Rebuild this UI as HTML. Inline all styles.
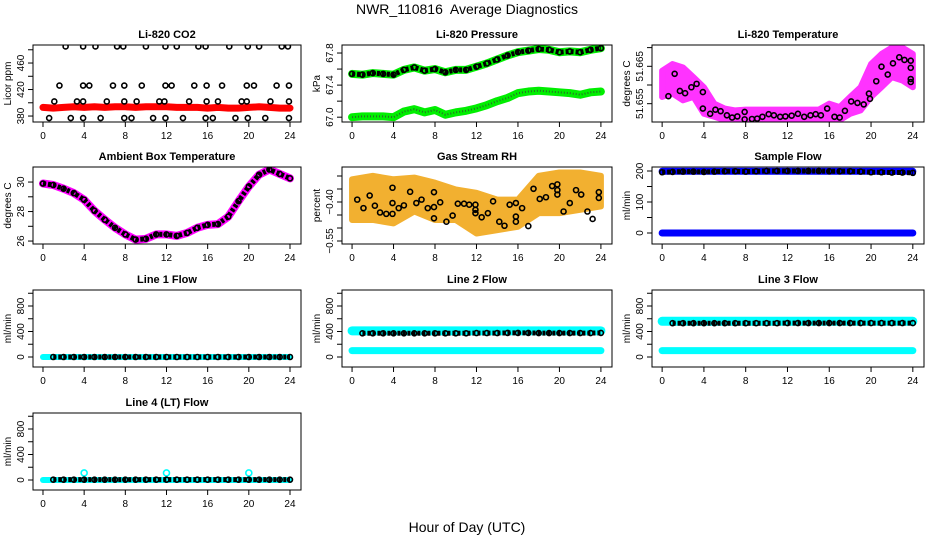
<!DOCTYPE html>
<html><head><meta charset="utf-8"><style>
html,body{margin:0;padding:0;background:#fff;width:936px;height:540px;overflow:hidden}
svg{display:block;font-family:"Liberation Sans",sans-serif}
</style></head><body>
<svg id="chart" width="936" height="540" viewBox="0 0 936 540" xmlns="http://www.w3.org/2000/svg">
<text x="467" y="14" text-anchor="middle" font-size="14">NWR_110816&#160; Average Diagnostics</text>
<text x="467" y="532" text-anchor="middle" font-size="14">Hour of Day (UTC)</text>
</svg>
<script>
// ---- data ----
const hours = [0,1,2,3,4,5,6,7,8,9,10,11,12,13,14,15,16,17,18,19,20,21,22,23,24];
const xTicks = [0,4,8,12,16,20,24];
const co2Red = [393,392,393,394,393,394,393,394,394,393,394,394,394,393,393,393,392,393,392,392,393,394,393,392,392];
const co2BlackHours = [2.2,3.9,5.1,7.2,7.8,10,11.9,13,15.1,15.8,18.1,19.9,21,23.2,23.8,1.6,3.9,4.5,6.8,7.9,9.6,11.9,12.5,14.7,15.9,17.4,19.8,20.5,22.7,23.9,1.1,3.3,3.9,6.2,7.9,9.1,11.3,11.8,14.2,15.9,17,19.3,19.8,22.1,23.9,0.6,2.7,3.9,5.6,7.9,8.6,10.7,11.9,13.6,15.8,16.5,18.7,19.9,21.6,23.9];
const co2BlackValues = [485,485,485,485,485,485,485,485,485,485,485,485,485,485,485,426,426,426,426,426,426,426,426,426,426,426,426,426,426,426,402,402,402,402,402,402,402,402,402,402,402,402,402,402,402,377,377,377,377,377,377,377,377,377,377,377,377,377,377,377];
const presUpper = [67.54,67.53,67.55,67.54,67.53,67.59,67.62,67.58,67.60,67.56,67.59,67.59,67.63,67.67,67.72,67.77,67.81,67.83,67.85,67.84,67.81,67.82,67.81,67.84,67.86];
const presLower = [67.0,67.01,67.01,67.01,67.0,67.07,67.1,67.06,67.09,67.03,67.06,67.08,67.11,67.15,67.2,67.24,67.3,67.32,67.33,67.32,67.31,67.3,67.28,67.31,67.32];
const tempBandUpper = [51.6638,51.6656,51.6647,51.6621,51.6594,51.655,51.6537,51.6532,51.6534,51.6534,51.6534,51.6534,51.6534,51.6534,51.6534,51.6534,51.655,51.6541,51.6568,51.6594,51.6656,51.6683,51.67,51.67,51.6683];
const tempBandLower = [51.6568,51.6577,51.6559,51.6568,51.6523,51.6515,51.6506,51.6506,51.6506,51.6506,51.6506,51.6506,51.6506,51.6506,51.6506,51.6506,51.6506,51.6506,51.6523,51.6532,51.6568,51.6594,51.6621,51.6612,51.6594];
const tempBlackHours = [0.6,1.2,1.7,2.2,2.8,3.3,3.9,3.9,4.6,5.1,5.6,6.2,6.7,7.2,7.9,7.9,8.6,9.1,9.6,10.2,10.7,11.3,11.8,12.4,13,13.6,14.2,14.7,15.2,15.8,16.5,17,17.5,18.1,18.7,19.3,19.8,19.9,20.5,21,21.6,22.1,22.7,23.2,23.8,23.8,23.8,23.8];
const tempBlackValues = [51.657,51.663,51.6584,51.6578,51.6594,51.6603,51.6537,51.6581,51.6523,51.6534,51.653,51.6519,51.6513,51.6516,51.6528,51.6508,51.6509,51.651,51.6515,51.6522,51.6519,51.6515,51.6516,51.6518,51.6523,51.6515,51.6519,51.6522,51.6519,51.6537,51.6515,51.6513,51.6531,51.6556,51.6552,51.6548,51.6577,51.6563,51.661,51.6649,51.6628,51.6658,51.6674,51.6667,51.6665,51.6646,51.6616,51.6608];
const ambient = [29.9,29.8,29.55,29.25,28.8,28.05,27.45,26.9,26.45,26.1,26.15,26.45,26.45,26.35,26.55,26.9,27.1,27.15,27.65,28.7,29.7,30.5,30.85,30.55,30.25];
const rhBandHours = [0,2,4,6,8,10,12,14,16,18,20,22,24];
const rhBandUpper = [-0.3126,-0.2996,-0.3126,-0.3061,-0.3257,-0.3517,-0.3648,-0.3909,-0.3909,-0.2996,-0.2865,-0.2865,-0.2996];
const rhBandLower = [-0.4691,-0.4691,-0.4822,-0.4365,-0.4691,-0.4691,-0.5213,-0.5083,-0.4952,-0.443,-0.443,-0.43,-0.417];
const rhBlackHours = [0.5,1.1,1.7,2.2,2.7,3.3,3.9,3.9,3.9,4.5,5.0,5.6,6.2,6.7,7.3,7.9,7.9,7.9,8.5,9.1,9.7,10.2,10.8,11.3,11.9,11.9,11.9,12.5,13.1,13.6,14.2,14.7,15.2,15.8,15.8,15.8,16.4,17.0,17.5,18.1,18.7,19.3,19.8,19.8,19.8,20.4,21.0,21.6,22.1,22.7,23.2,23.8,23.8];
const rhBlackValues = [-0.3909,-0.4235,-0.3752,-0.4143,-0.4404,-0.4457,-0.4457,-0.4039,-0.3452,-0.4235,-0.413,-0.3609,-0.4039,-0.3909,-0.4235,-0.3622,-0.4196,-0.4626,-0.4013,-0.4757,-0.4522,-0.4065,-0.4065,-0.4104,-0.4104,-0.43,-0.443,-0.4587,-0.443,-0.3974,-0.4757,-0.4913,-0.4104,-0.4039,-0.4561,-0.4757,-0.4235,-0.4926,-0.3491,-0.3883,-0.3817,-0.3387,-0.3322,-0.3543,-0.3713,-0.4365,-0.4039,-0.3543,-0.3713,-0.4365,-0.4652,-0.3622,-0.3843];
const sampleBlue = [199,199,199,199,199,199,199,199,199,199,199,199,199,199,199,199,199,199,199,199,199,199,199,199,199];
const sampleZero = [0,0,0,0,0,0,0,0,0,0,0,0,0,0,0,0,0,0,0,0,0,0,0,0,0];
const sampleBlack = [196,197,198,198,197,198,199,199,198,199,200,200,200,200,200,200,199,199,199,198,196,196,195,195,194];
const line1Cyan = [0,0,0,0,0,0,0,0,0,0,0,0,0,0,0,0,0,0,0,0,0,0,0,0,0];
const line1Black = [0,0,0,0,0,0,0,0,0,0,0,0,0,0,0,0,0,0,0,0,0,0,0,0,0];
const line2CyanHigh = [410,410,410,410,410,410,410,410,410,410,410,410,410,410,410,410,410,410,410,410,410,410,410,410,410];
const line2CyanLow = [100,100,100,100,100,100,100,100,100,100,100,100,100,100,100,100,100,100,100,100,100,100,100,100,100];
const line2Black = [372,372,372,372,372,372,372,372,372,372,372,372,375,375,375,378,378,378,375,375,375,375,375,375,378];
const line3CyanHigh = [560,560,560,560,560,560,560,560,560,560,560,560,560,560,560,560,560,560,560,560,560,560,560,560,560];
const line3CyanLow = [100,100,100,100,100,100,100,100,100,100,100,100,100,100,100,100,100,100,100,100,100,100,100,100,100];
const line3Black = [530,530,530,530,530,530,530,530,530,530,530,530,532,532,532,532,532,532,532,532,532,532,532,532,532];
const line4Cyan = [0,0,0,0,0,0,0,0,0,0,0,0,0,0,0,0,0,0,0,0,0,0,0,0,0];
const line4SpikeHours = [4,12,20];
const line4SpikeValues = [110,110,110];
const line4Black = [5,5,5,5,5,5,5,5,5,5,5,5,5,5,5,5,5,5,5,5,5,5,5,5,5];

// ---- drawing ----
const NS = "http://www.w3.org/2000/svg";
const svg = document.getElementById("chart");
function mk(tag, attrs, parent){ const e=document.createElementNS(NS,tag); for(const k in attrs) e.setAttribute(k,attrs[k]); (parent||svg).appendChild(e); return e; }
const XMIN=-0.97, XMAX=25.07;
function panel(o){
  const g = mk("g",{});
  
  
  const W=o.x1-o.x0, H=o.y1-o.y0;
  const sx = h => o.x0 + (h-XMIN)/(XMAX-XMIN)*W;
  const sy = v => o.y1 - (v-o.ymin)/(o.ymax-o.ymin)*H;
  const t = mk("text",{x:(o.x0+o.x1)/2,y:o.y0-7,"text-anchor":"middle","font-size":"11","font-weight":"bold"},g);
  t.textContent=o.title;
  
  
  const yl = mk("text",{x:0,y:0,"text-anchor":"middle","font-size":"10",transform:`translate(${o.x0-22},${(o.y0+o.y1)/2}) rotate(-90)`},g);
  yl.textContent=o.ylab;
  
  
  const cid = "c"+Math.round(o.x0)+"_"+Math.round(o.y0);
  const cp = mk("clipPath",{id:cid},g); mk("rect",{x:o.x0,y:o.y0,width:W,height:H},cp);
  const pg = mk("g",{"clip-path":`url(#${cid})`},g);
  o.draw(pg, sx, sy);
  const box = mk("rect",{x:o.x0,y:o.y0,width:W,height:H,fill:"none",stroke:"#000","stroke-width":1},g);
  
  
  mk("line",{x1:sx(0),x2:sx(24),y1:o.y1,y2:o.y1,stroke:"#000"},g);
  xTicks.forEach(v=>{
    const x=sx(v);
    mk("line",{x1:x,x2:x,y1:o.y1,y2:o.y1+5,stroke:"#000"},g);
    const tl=mk("text",{x:x,y:o.y1+17,"text-anchor":"middle","font-size":"10"},g);
    tl.textContent=v;
    
    
  });
  mk("line",{x1:o.x0,x2:o.x0,y1:sy(o.yt[0]),y2:sy(o.yt[o.yt.length-1]),stroke:"#000"},g);
  o.yt.forEach(v=>mk("line",{x1:o.x0-5,x2:o.x0,y1:sy(v),y2:sy(v),stroke:"#000"},g));
  o.yl.forEach((v,i)=>{
    const y=sy(v);
    const tl=mk("text",{x:0,y:0,"text-anchor":"middle","font-size":"10",transform:`translate(${o.x0-9},${y}) rotate(-90)`},g);
    tl.textContent=o.ylt[i];
    
    
  });
}
function pts(xs, ys, sx, sy){ return xs.map((h,i)=>sx(h)+","+sy(ys[i])).join(" "); }
function thick(g, xs, ys, sx, sy, color, w, name){
  const p=mk("polyline",{points:pts(xs,ys,sx,sy),fill:"none",stroke:color,"stroke-width":w,"stroke-linecap":"round","stroke-linejoin":"round"},g);
  
  
}
function circles(g, xs, ys, sx, sy, color, r, name){
  xs.forEach((h,i)=>{
    const c=mk("circle",{cx:sx(h),cy:sy(ys[i]),r:r,fill:"none",stroke:color,"stroke-width":1.6},g);
    
    
  });
}
function dotted(g, xs, ys, sx, sy, name){
  const p=mk("polyline",{points:pts(xs,ys,sx,sy),fill:"none",stroke:"#000","stroke-width":5,"stroke-dasharray":"3 2"},g);
  
  
  circles(g, xs, ys, sx, sy, "#000", 2.5, name+"-point");
}
function band(g, xs, up, lo, sx, sy, fill, name){
  const a=xs.map((h,i)=>sx(h)+","+sy(up[i]));
  const b=xs.map((h,i)=>sx(h)+","+sy(lo[i])).reverse();
  const p=mk("polygon",{points:a.concat(b).join(" "),fill:fill,stroke:fill,"stroke-width":6,"stroke-linejoin":"round"},g);
  
  
}
const C1=[33,301], C2=[342,612], C3=[652,924];
const R=[[45,122],[167,244],[290,367],[413,490]];
const flowT=[0,200,400,600,800,1000], flowL=[0,400,800];

panel({name:"co2-panel",title:"Li-820 CO2",ylab:"Licor ppm",x0:C1[0],x1:C1[1],y0:R[0][0],y1:R[0][1],ymin:371,ymax:487.2,
  yt:[380,400,420,440,460,480],yl:[380,420,460],ylt:["380","420","460"],
  draw:(g,sx,sy)=>{ thick(g,hours,co2Red,sx,sy,"#ff0000",7,"co2-red-series"); circles(g,co2BlackHours,co2BlackValues,sx,sy,"#000",2.5,"co2-black-point"); }});
panel({name:"pressure-panel",title:"Li-820 Pressure",ylab:"kPa",x0:C2[0],x1:C2[1],y0:R[0][0],y1:R[0][1],ymin:66.94,ymax:67.9,
  yt:[67.0,67.2,67.4,67.6,67.8],yl:[67.0,67.4,67.8],ylt:["67.0","67.4","67.8"],
  draw:(g,sx,sy)=>{ thick(g,hours,presUpper,sx,sy,"#00ee00",8,"pressure-upper-green"); thick(g,hours,presLower,sx,sy,"#00ee00",8,"pressure-lower-green");
    const d=mk("polyline",{points:pts(hours,presLower,sx,sy),fill:"none",stroke:"#2a6a2a","stroke-width":2,"stroke-dasharray":"1 2"},g);
    
    
    dotted(g,hours,presUpper,sx,sy,"pressure-black"); }});
panel({name:"licor-temp-panel",title:"Li-820 Temperature",ylab:"degrees C",x0:C3[0],x1:C3[1],y0:R[0][0],y1:R[0][1],ymin:51.6501,ymax:51.6707,
  yt:[51.655,51.66,51.665,51.67],yl:[51.655,51.665],ylt:["51.655","51.665"],
  draw:(g,sx,sy)=>{ band(g,hours,tempBandUpper,tempBandLower,sx,sy,"#ff33ff","licor-temp-magenta-cloud"); circles(g,tempBlackHours,tempBlackValues,sx,sy,"#000",2.5,"licor-temp-black-point"); }});
panel({name:"ambient-temp-panel",title:"Ambient Box Temperature",ylab:"degrees C",x0:C1[0],x1:C1[1],y0:R[1][0],y1:R[1][1],ymin:25.8,ymax:31.02,
  yt:[26,27,28,29,30],yl:[26,28,30],ylt:["26","28","30"],
  draw:(g,sx,sy)=>{ thick(g,hours,ambient,sx,sy,"#ff00ff",8,"ambient-magenta-series"); dotted(g,hours,ambient,sx,sy,"ambient-black"); }});
panel({name:"rh-panel",title:"Gas Stream RH",ylab:"percent",x0:C2[0],x1:C2[1],y0:R[1][0],y1:R[1][1],ymin:-0.5615,ymax:-0.2654,
  yt:[-0.55,-0.5,-0.45,-0.4,-0.35,-0.3],yl:[-0.55,-0.4],ylt:["\u22120.55","\u22120.40"],
  draw:(g,sx,sy)=>{ band(g,rhBandHours,rhBandUpper,rhBandLower,sx,sy,"#f2b030","rh-orange-cloud"); circles(g,rhBlackHours,rhBlackValues,sx,sy,"#000",2.5,"rh-black-point"); }});
panel({name:"sample-flow-panel",title:"Sample Flow",ylab:"ml/min",x0:C3[0],x1:C3[1],y0:R[1][0],y1:R[1][1],ymin:-35.5,ymax:212.9,
  yt:[0,50,100,150,200],yl:[0,100,200],ylt:["0","100","200"],
  draw:(g,sx,sy)=>{ thick(g,hours,sampleBlue,sx,sy,"#0000ff",7,"sample-blue-high"); thick(g,hours,sampleZero,sx,sy,"#0000ff",7,"sample-blue-zero"); dotted(g,hours,sampleBlack,sx,sy,"sample-black"); }});
panel({name:"line1-flow-panel",title:"Line 1 Flow",ylab:"ml/min",x0:C1[0],x1:C1[1],y0:R[2][0],y1:R[2][1],ymin:-157,ymax:1051,
  yt:flowT,yl:flowL,ylt:["0","400","800"],
  draw:(g,sx,sy)=>{ thick(g,hours,line1Cyan,sx,sy,"#00ffff",6,"line1-cyan"); dotted(g,hours.slice(1),line1Black.slice(1),sx,sy,"line1-black"); }});
panel({name:"line2-flow-panel",title:"Line 2 Flow",ylab:"ml/min",x0:C2[0],x1:C2[1],y0:R[2][0],y1:R[2][1],ymin:-157,ymax:1051,
  yt:flowT,yl:flowL,ylt:["0","400","800"],
  draw:(g,sx,sy)=>{ thick(g,hours,line2CyanHigh,sx,sy,"#00ffff",9,"line2-cyan-high"); thick(g,hours,line2CyanLow,sx,sy,"#00ffff",7,"line2-cyan-low"); dotted(g,hours.slice(1),line2Black.slice(1),sx,sy,"line2-black"); }});
panel({name:"line3-flow-panel",title:"Line 3 Flow",ylab:"ml/min",x0:C3[0],x1:C3[1],y0:R[2][0],y1:R[2][1],ymin:-157,ymax:1051,
  yt:flowT,yl:flowL,ylt:["0","400","800"],
  draw:(g,sx,sy)=>{ thick(g,hours,line3CyanHigh,sx,sy,"#00ffff",9,"line3-cyan-high"); thick(g,hours,line3CyanLow,sx,sy,"#00ffff",7,"line3-cyan-low"); dotted(g,hours.slice(1),line3Black.slice(1),sx,sy,"line3-black"); }});
panel({name:"line4-flow-panel",title:"Line 4 (LT) Flow",ylab:"ml/min",x0:C1[0],x1:C1[1],y0:R[3][0],y1:R[3][1],ymin:-157,ymax:1051,
  yt:flowT,yl:flowL,ylt:["0","400","800"],
  draw:(g,sx,sy)=>{ thick(g,hours,line4Cyan,sx,sy,"#00ffff",6,"line4-cyan"); circles(g,line4SpikeHours,line4SpikeValues,sx,sy,"#00ffff",3,"line4-cyan-spike"); dotted(g,hours.slice(1),line4Black.slice(1),sx,sy,"line4-black"); }});
</script>
</body></html>
